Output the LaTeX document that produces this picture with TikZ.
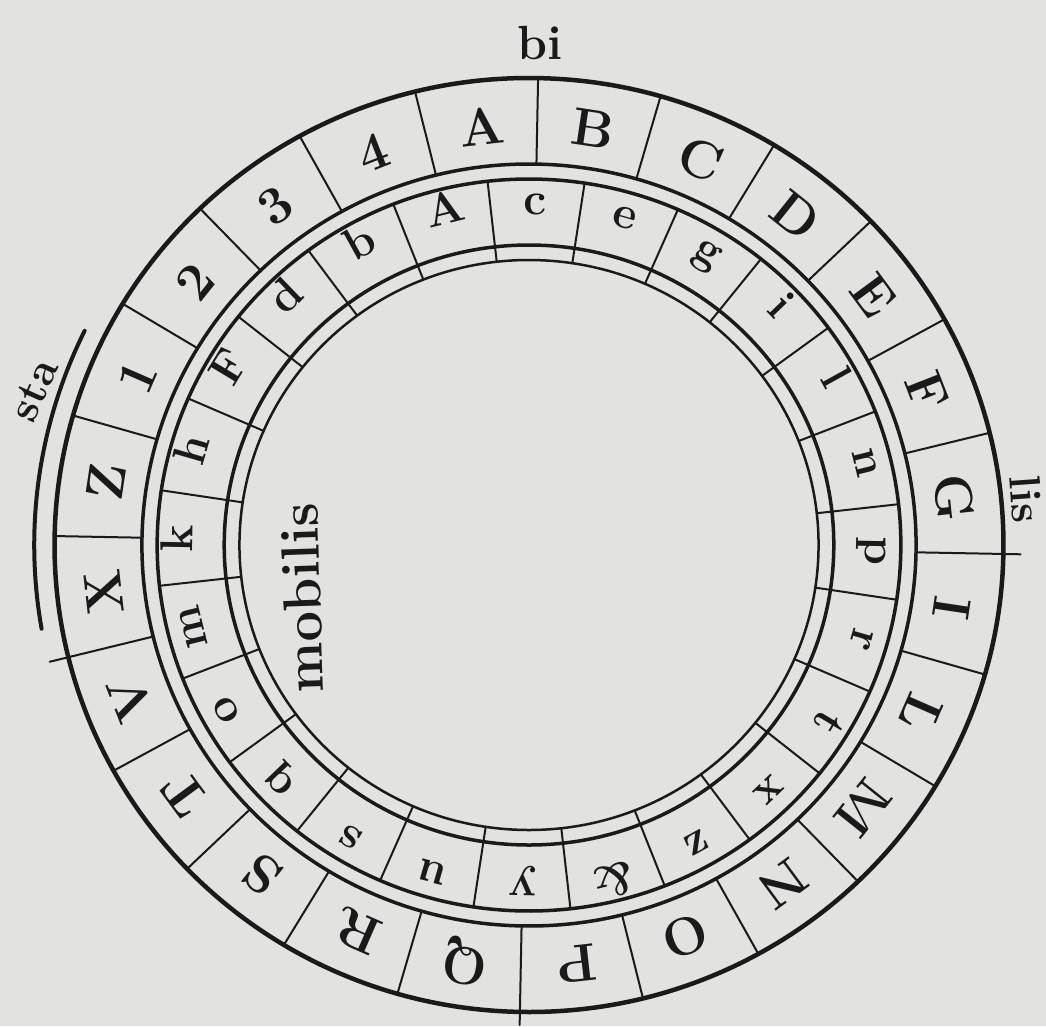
\documentclass[tikz,border=0pt]{standalone}
\usepackage{fontspec}
\definecolor{paper}{HTML}{E2E2E0}
\definecolor{ink}{HTML}{1A1A1A}
\begin{document}
\begin{tikzpicture}[x=1pt,y=1pt,line cap=round,
  ring/.style={draw=ink,line width=3.5pt},
  sep/.style={draw=ink,line width=2pt},
  outerl/.style={font=\bfseries\fontsize{53}{53}\selectfont,text=ink,inner sep=0pt},
  innerl/.style={font=\bfseries\fontsize{46}{46}\selectfont,text=ink,inner sep=0pt,text height=0.62em,text depth=0.12em},
  lab/.style={font=\bfseries\fontsize{44}{44}\selectfont,text=ink,inner sep=0pt}]
\fill[paper] (0,0) rectangle (1046,-1026);
\useasboundingbox (0,0) rectangle (1046,-1026);
\begin{scope}[shift={(529,-545)},xscale=1.016,rotate=-1.1]
  \coordinate (c) at (0,0);
  \draw[ring,line width=4.5pt] (c) circle (467);
  \draw[ring] (c) circle (381);
  \draw[ring] (c) circle (366);
  \draw[ring] (c) circle (300);
  \draw[ring,line width=2.5pt] (c) circle (285);
  \foreach \k in {0,...,23} {\draw[sep] (90+15*\k:381) -- (90+15*\k:467);}
  \foreach \k in {0,...,23} {\draw[sep] (97.5+15*\k:285) -- (97.5+15*\k:366);}
  % compass ticks
  \draw[sep] (0:467) -- (0:484);
  \draw[sep] (195:467) -- (195:486);
  \draw[sep] (270:467) -- (270:480);
  % outer arc by "sta"
  \draw[ink,line width=4pt] (155:487) arc (155:191:487);
  % outer ring letters
  \foreach \t [count=\i from 0] in {A,B,C,D,E,F,G,I,L,M,N,O,P,Q,R,S,T,V,X,Z,1,2,3,4}
    {\node[outerl,rotate={7.5-15*\i-1.1}] (o\i) at ({97.5-15*\i}:421) {\t};}
  % inner ring letters
  \foreach \t [count=\i from 0] in {c,e,g,i,l,n,p,r,t,x,z,\&,y,u,s,q,o,m,k,h,F,d,b,A}
    {\node[innerl,rotate={-15*\i-1.1}] (n\i) at ({90-15*\i}:333) {\t};}
\end{scope}
\node[lab,font=\bfseries\fontsize{48}{48}\selectfont] (bi) at (540,-43) {bi};
\node[lab,rotate=-86] (lis) at (1026,-499) {lis};
\node[lab,rotate=66] (sta) at (34,-390) {sta};
\node[lab,font=\bfseries\fontsize{54}{54}\selectfont,rotate=92] (mob) at (302,-598) {mobilis};
\end{tikzpicture}
\end{document}
